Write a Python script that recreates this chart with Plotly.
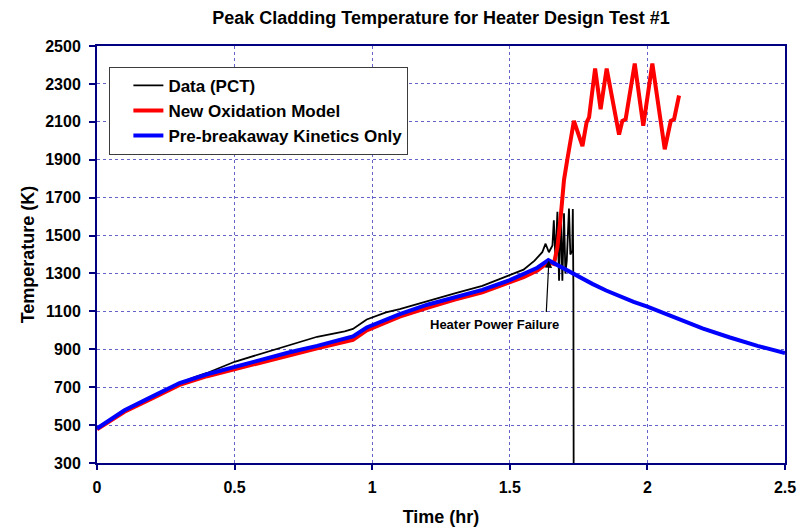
import plotly.graph_objects as go

# time (hr) and peak cladding temperature (K)
t_data = [0, 0.1, 0.2, 0.3, 0.35, 0.4, 0.5, 0.6, 0.7, 0.8, 0.9, 0.93, 0.98, 1.05, 1.1, 1.2, 1.3, 1.4,
          1.5, 1.55, 1.59, 1.618, 1.63, 1.642, 1.655, 1.66, 1.666, 1.673, 1.679, 1.685, 1.691, 1.697,
          1.702, 1.707, 1.715, 1.72, 1.727, 1.729, 1.731, 1.732]
T_data = [482, 578, 650, 722, 750, 775, 834, 878, 922, 966, 995, 1007, 1057, 1095, 1112, 1155, 1195, 1235,
          1290, 1320, 1368, 1412, 1457, 1412, 1448, 1581, 1368, 1625, 1261, 1625, 1261, 1617,
          1300, 1368, 1643, 1400, 1421, 1640, 1230, 300]

t_oxid = [0, 0.1, 0.2, 0.3, 0.4, 0.5, 0.6, 0.7, 0.8, 0.9, 0.93, 0.98, 1.05, 1.1, 1.2, 1.3, 1.4, 1.5,
          1.55, 1.6, 1.64, 1.66, 1.673, 1.685, 1.697, 1.709, 1.733, 1.764, 1.779, 1.788, 1.81, 1.83,
          1.852, 1.897, 1.909, 1.921, 1.954, 1.985, 2.018, 2.063, 2.085, 2.097, 2.115]
T_oxid = [478, 570, 640, 712, 758, 795, 835, 872, 905, 940, 950, 1000, 1045, 1072, 1118, 1162, 1200, 1250,
          1280, 1315, 1360, 1350, 1439, 1599, 1794, 1901, 2105, 1972, 2097, 2123, 2381, 2167,
          2381, 2033, 2105, 2114, 2407, 2079, 2407, 1955, 2105, 2114, 2239]

t_pre = [0, 0.05, 0.1, 0.2, 0.3, 0.4, 0.5, 0.6, 0.7, 0.8, 0.9, 0.93, 0.98, 1.05, 1.1, 1.2, 1.3, 1.4,
         1.5, 1.55, 1.6, 1.64, 1.7, 1.75, 1.8, 1.85, 1.9, 1.95, 2.0, 2.1, 2.2, 2.3, 2.4, 2.5]
T_pre = [482, 530, 578, 650, 722, 768, 808, 848, 884, 918, 955, 968, 1015, 1058, 1085, 1135, 1175, 1213,
         1265, 1295, 1330, 1370, 1322, 1285, 1245, 1210, 1178, 1150, 1125, 1065, 1010, 962, 918, 880]

x_ticks = [0, 0.5, 1, 1.5, 2, 2.5]
y_ticks = [300, 500, 700, 900, 1100, 1300, 1500, 1700, 1900, 2100, 2300, 2500]

axis_color = 'rgb(0,0,128)'
grid_color = 'rgb(100,100,200)'
font_plot = 'Liberation Sans, Arial, sans-serif'

fig = go.Figure(data=[
    go.Scatter(name='<b>Data (PCT)</b>', x=t_data, y=T_data, mode='lines', line=dict(color='black', width=1.8)),
    go.Scatter(name='<b>New Oxidation Model</b>', x=t_oxid, y=T_oxid, mode='lines', line=dict(color='rgb(255,0,0)', width=4)),
    go.Scatter(name='<b>Pre-breakaway Kinetics Only</b>', x=t_pre, y=T_pre, mode='lines', line=dict(color='rgb(0,0,255)', width=4)),
])

# page body has an 8px margin, so the figure is a bit smaller than the window
fig.update_layout(width=799, height=519, autosize=False,
                  margin=dict(l=89, r=22, t=38, b=64),
                  plot_bgcolor='white', paper_bgcolor='white',
                  font=dict(family=font_plot, color='black'),
                  showlegend=True)
fig.update_layout(title=dict(text='<b>Peak Cladding Temperature for Heater Design Test #1</b>',
                             x=0.5, xref='paper', xanchor='center', y=1 - 10 / 519, yanchor='middle',
                             font=dict(size=18, color='black')))
fig.update_xaxes(range=[0, 2.5], tickvals=x_ticks, ticktext=['<b>%g</b>' % v for v in x_ticks],
                 showline=True, linecolor=axis_color, linewidth=2, mirror=True,
                 ticks='outside', ticklen=5, tickcolor=axis_color, tickwidth=1.5,
                 showgrid=True, gridcolor=grid_color, griddash='dot', gridwidth=1,
                 zeroline=False, tickfont=dict(size=16), automargin=False, ticklabelstandoff=4,
                 title=dict(text='<b>Time (hr)</b>', font=dict(size=18), standoff=16))
fig.update_yaxes(range=[300, 2500], tickvals=y_ticks, ticktext=['<b>%d</b>' % v for v in y_ticks],
                 showline=True, linecolor=axis_color, linewidth=2, mirror=True,
                 ticks='outside', ticklen=6, tickcolor=axis_color, tickwidth=1.5,
                 showgrid=True, gridcolor=grid_color, griddash='dot', gridwidth=1,
                 zeroline=False, tickfont=dict(size=16), automargin=False, ticklabelstandoff=5,
                 title=dict(text='<b>Temperature (K)</b>', font=dict(size=18), standoff=6))
fig.update_layout(legend=dict(x=0.018, y=0.95, xanchor='left', yanchor='top',
                              bgcolor='white', bordercolor='rgb(60,60,60)', borderwidth=1,
                              font=dict(size=17, color='black'), indentation=18,
                              tracegroupgap=0))

fig.add_annotation(x=1.642, y=1368, xref='x', yref='y', text=' ', showarrow=True,
                   ax=-3, ay=60, arrowhead=2, arrowsize=1.2, arrowwidth=1.2, arrowcolor='black')
fig.add_annotation(x=1.445, y=1032, xref='x', yref='y', text='<b>Heater Power Failure</b>',
                   showarrow=False, font=dict(size=13, color='black'))

fig.write_html("out.html")
